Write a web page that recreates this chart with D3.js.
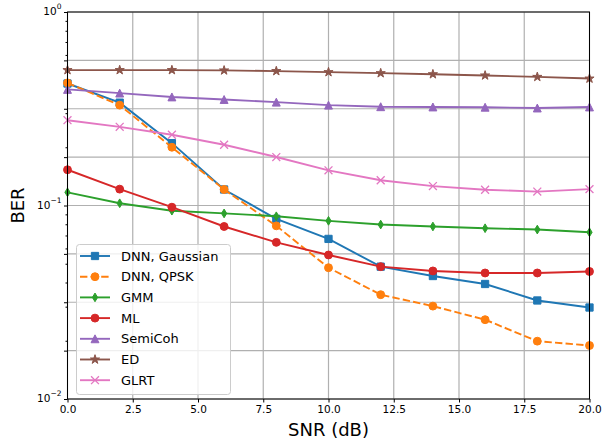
<!DOCTYPE html>
<html>
<head>
<meta charset="utf-8">
<script src="https://cdn.jsdelivr.net/npm/d3@7"></script>
<style>
  body { margin: 0; background: #fff; }
  text { font-family: "DejaVu Sans", sans-serif; }
</style>
</head>
<body>
<div id="berPlot"></div>
<script>
// ---------------------------//
//       DATA                 //
// ---------------------------//
const snr = [0, 2, 4, 6, 8, 10, 12, 14, 16, 18, 20];

const dnnGaussian = [0.427, 0.340, 0.210, 0.121, 0.0853, 0.0672, 0.0483, 0.0432, 0.0393, 0.0323, 0.0297];
const dnnQpsk     = [0.430, 0.330, 0.200, 0.121, 0.0785, 0.0477, 0.0346, 0.0302, 0.0257, 0.0199, 0.0189];
const gmm         = [0.117, 0.1027, 0.094, 0.091, 0.088, 0.0833, 0.0797, 0.0779, 0.0763, 0.0751, 0.0727];
const ml          = [0.153, 0.1215, 0.098, 0.0779, 0.0645, 0.0555, 0.0483, 0.0459, 0.0448, 0.0448, 0.0456];
const semiCoh     = [0.398, 0.381, 0.364, 0.353, 0.342, 0.330, 0.324, 0.323, 0.322, 0.319, 0.323];
const ed          = [0.501, 0.501, 0.501, 0.499, 0.495, 0.489, 0.483, 0.477, 0.470, 0.462, 0.453];
const glrt        = [0.276, 0.255, 0.232, 0.206, 0.178, 0.152, 0.135, 0.126, 0.1206, 0.118, 0.1215];

const seriesNames = ["DNN, Gaussian", "DNN, QPSK", "GMM", "ML", "SemiCoh", "ED", "GLRT"];
const xTicks = [0, 2.5, 5, 7.5, 10, 12.5, 15, 17.5, 20];
const yDecades = [0, -1, -2];

// series table built from the arrays above
const series = [
    {name: seriesNames[0], values: dnnGaussian, color: "#1f77b4", marker: "square", dash: null},
    {name: seriesNames[1], values: dnnQpsk, color: "#ff7f0e", marker: "circle", dash: "7.4,3.2"},
    {name: seriesNames[2], values: gmm, color: "#2ca02c", marker: "diamond", dash: null},
    {name: seriesNames[3], values: ml, color: "#d62728", marker: "circle", dash: null},
    {name: seriesNames[4], values: semiCoh, color: "#9467bd", marker: "triangle", dash: null},
    {name: seriesNames[5], values: ed, color: "#8c564b", marker: "star", dash: null},
    {name: seriesNames[6], values: glrt, color: "#e377c2", marker: "x", dash: null}
];

// ---------------------------//
//       SVG AND SCALES       //
// ---------------------------//
const W = 605, H = 440;
const margin = {top: 12, right: 15.5, bottom: 41, left: 67.5},
    width = W - margin.left - margin.right,
    height = H - margin.top - margin.bottom;

const svgRoot = d3.select("#berPlot")
    .append("svg")
    .attr("width", W)
    .attr("height", H);

const svg = svgRoot.append("g")
    .attr("transform", `translate(${margin.left},${margin.top})`);

const x = d3.scaleLinear().domain([0, 20]).range([0, width]);
const y = d3.scaleLog().domain([0.01, 1]).range([height, 0]);

// ---------------------------//
//       GRID                 //
// ---------------------------//
// grid lines every quarter decade
const quarterTicks = d3.range(0, 9).map(k => Math.pow(10, -k / 4));
const minorTicks = [];
[-2, -1].forEach(e => {
    for (let m = 2; m <= 9; m++) minorTicks.push(m * Math.pow(10, e));
});

svg.append("g")
    .selectAll("line")
    .data(quarterTicks)
    .join("line")
    .attr("x1", 0).attr("x2", width)
    .attr("y1", d => y(d)).attr("y2", d => y(d))
    .attr("stroke", "#b0b0b0")
    .attr("stroke-width", 1.2);

svg.append("g")
    .selectAll("line")
    .data(xTicks)
    .join("line")
    .attr("x1", d => x(d)).attr("x2", d => x(d))
    .attr("y1", 0).attr("y2", height)
    .attr("stroke", "#b0b0b0")
    .attr("stroke-width", 1.2);

// ---------------------------//
//       AXES                 //
// ---------------------------//
const xAxis = svg.append("g")
    .attr("transform", `translate(0,${height})`)
    .call(d3.axisBottom(x).tickValues(xTicks).tickFormat(d3.format(".1f")).tickSize(3.5).tickPadding(3));
xAxis.select(".domain").remove();
xAxis.selectAll("text").attr("font-size", 10.5).attr("font-family", "DejaVu Sans").attr("fill", "#000");

const yAxis = svg.append("g")
    .call(d3.axisLeft(y).tickValues(quarterTicks).tickFormat("").tickSize(3.5));
yAxis.select(".domain").remove();

svg.append("g")
    .call(d3.axisLeft(y).tickValues(minorTicks).tickFormat("").tickSize(2))
    .select(".domain").remove();

// decade labels with superscripts
const yLabels = svg.append("g")
    .selectAll("text")
    .data(yDecades)
    .join("text")
    .attr("x", -6)
    .attr("y", d => y(Math.pow(10, d)))
    .attr("text-anchor", "end")
    .attr("dominant-baseline", "middle")
    .attr("font-size", 10.5);
yLabels.append("tspan").text("10");
yLabels.append("tspan")
    .attr("font-size", 7.5)
    .attr("dy", -5)
    .text(d => d === 0 ? "0" : "\u2212" + (-d));

// axis titles
svgRoot.append("text")
    .attr("x", margin.left + width / 2)
    .attr("y", 436)
    .attr("text-anchor", "middle")
    .attr("font-size", 18)
    .text("SNR (dB)");

svgRoot.append("text")
    .attr("transform", `translate(24,${margin.top + height / 2}) rotate(-90)`)
    .attr("text-anchor", "middle")
    .attr("font-size", 18)
    .text("BER");

// ---------------------------//
//       MARKERS              //
// ---------------------------//
const s = 7.9;
function markerPath(type) {
    const h = s / 2;
    if (type === "square") return `M${-h * 0.92},${-h * 0.92}H${h * 0.92}V${h * 0.92}H${-h * 0.92}Z`;
    if (type === "circle") return d3.symbol(d3.symbolCircle, Math.PI * h * h)();
    if (type === "diamond") return `M0,${-h * 1.1}L${h * 0.66},0L0,${h * 1.1}L${-h * 0.66},0Z`;
    if (type === "triangle") return `M0,${-h}L${h},${h}L${-h},${h}Z`;
    if (type === "star") return d3.symbol(d3.symbolStar, 26)();
    if (type === "x") return `M${-h},${-h}L${h},${h}M${-h},${h}L${h},${-h}`;
}

// ---------------------------//
//       LINES                //
// ---------------------------//
const line = d3.line()
    .x((d, i) => x(snr[i]))
    .y(d => y(d));

const clip = svg.append("clipPath").attr("id", "plotClip")
    .append("rect").attr("width", width).attr("height", height);

const plot = svg.append("g");

series.forEach(ser => {
    const g = plot.append("g");
    g.append("path")
        .datum(ser.values)
        .attr("d", line)
        .attr("fill", "none")
        .attr("stroke", ser.color)
        .attr("stroke-width", 1.9)
        .attr("stroke-dasharray", ser.dash);
    g.selectAll("path.mk")
        .data(ser.values)
        .join("path")
        .attr("class", "mk")
        .attr("transform", (d, i) => `translate(${x(snr[i])},${y(d)})`)
        .attr("d", markerPath(ser.marker))
        .attr("fill", ser.marker === "x" ? "none" : ser.color)
        .attr("stroke", ser.color)
        .attr("stroke-width", ser.marker === "x" ? 1.3 : 1);
});

// frame
svg.append("rect")
    .attr("width", width)
    .attr("height", height)
    .attr("fill", "none")
    .attr("stroke", "#000")
    .attr("stroke-width", 1);

// ---------------------------//
//       LEGEND               //
// ---------------------------//
const legend = svgRoot.append("g");
legend.append("rect")
    .attr("x", 76.5).attr("y", 244.5)
    .attr("width", 154).attr("height", 150)
    .attr("rx", 3)
    .attr("fill", "#fff")
    .attr("fill-opacity", 0.8)
    .attr("stroke", "#cccccc");

const rows = legend.selectAll("g.row")
    .data(series)
    .join("g")
    .attr("class", "row")
    .attr("transform", (d, i) => `translate(0,${256 + i * 20.7})`);

rows.append("line")
    .attr("x1", 80).attr("x2", 110)
    .attr("stroke", d => d.color)
    .attr("stroke-width", 1.9)
    .attr("stroke-dasharray", d => d.dash);

rows.append("path")
    .attr("transform", "translate(95,0)")
    .attr("d", d => markerPath(d.marker))
    .attr("fill", d => d.marker === "x" ? "none" : d.color)
    .attr("stroke", d => d.color)
    .attr("stroke-width", d => d.marker === "x" ? 1.3 : 1);

rows.append("text")
    .attr("x", 121)
    .attr("dominant-baseline", "central")
    .attr("font-size", 13)
    .text(d => d.name);
</script>
</body>
</html>
